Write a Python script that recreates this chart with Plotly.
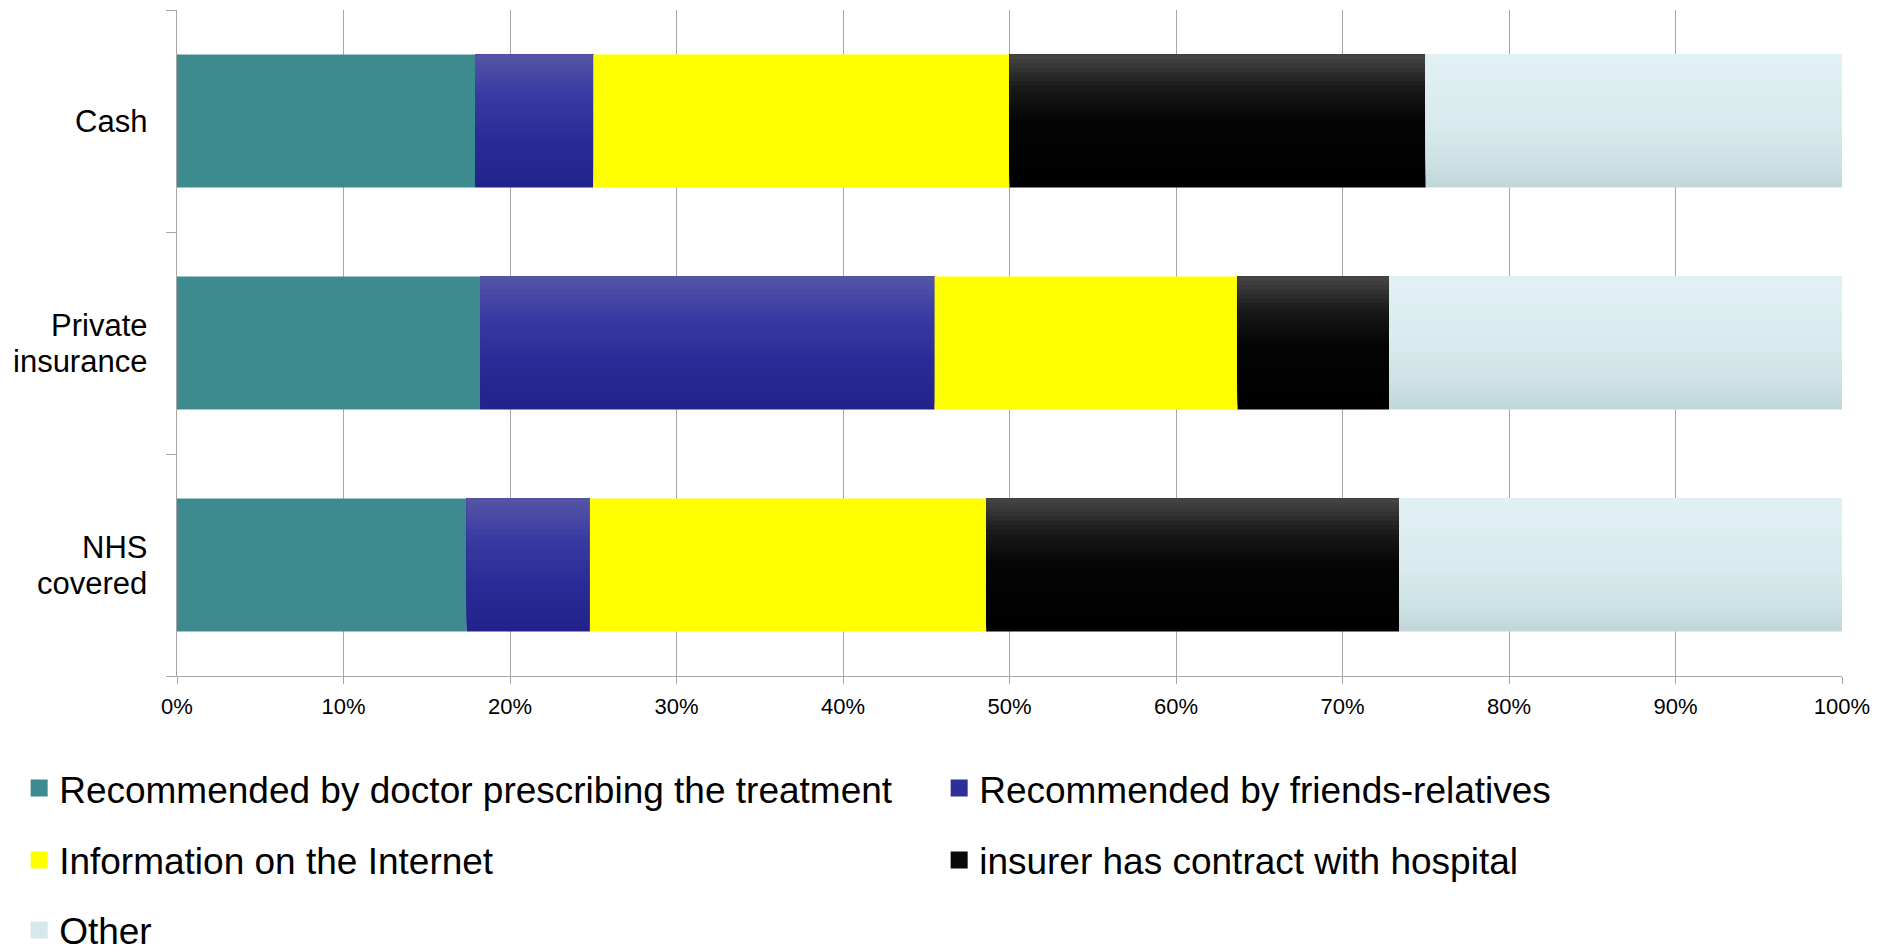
import plotly.graph_objects as go

# Payment type per respondent group
categories = ["Cash", "Private insurance", "NHS covered"]
category_lines = [["Cash"], ["Private", "insurance"], ["NHS", "covered"]]

# Share of answers (%) for each reason of hospital choice
series_names = [
    "Recommended by doctor prescribing the treatment",
    "Recommended by friends-relatives",
    "Information on the Internet",
    "insurer has contract with hospital",
    "Other",
]
doctor = [17.9, 18.2, 17.4]
friends = [7.1, 27.3, 7.4]
internet = [25.0, 18.2, 23.8]
insurer = [25.0, 9.1, 24.8]
other = [25.0, 27.2, 26.6]

series_values = [doctor, friends, internet, insurer, other]

# Fill styles: list of (position from top 0..1, colour) stops
fills = [
    [(0.0, "#3e8b8f"), (1.0, "#3e8b8f")],
    [(0.0, "#5456a6"), (0.3, "#3a3aa2"), (0.65, "#2b2b97"), (1.0, "#22228a")],
    [(0.0, "#ffff00"), (1.0, "#ffff00")],
    [(0.0, "#474747"), (0.25, "#1a1a1a"), (0.5, "#050505"), (1.0, "#000000")],
    [(0.0, "#e1f0f4"), (0.5, "#d9ebee"), (0.8, "#cde2e5"), (1.0, "#c0d6d9")],
]
key_colours = ["#3e8b8f", "#2f2f9a", "#ffff00", "#0a0a0a", "#d6e8eb"]
legend_rows = ["legend", "legend", "legend2", "legend2", "legend3"]

BAR_W = 0.6
N_BANDS = 30


def hex_to_rgb(h):
    h = h.lstrip("#")
    return tuple(int(h[i:i + 2], 16) for i in (0, 2, 4))


def colour_at(stops, t):
    for (t0, c0), (t1, c1) in zip(stops, stops[1:]):
        if t0 <= t <= t1:
            f = 0 if t1 == t0 else (t - t0) / (t1 - t0)
            a, b = hex_to_rgb(c0), hex_to_rgb(c1)
            r = [round(a[i] + (b[i] - a[i]) * f) for i in range(3)]
            return "rgb({},{},{})".format(*r)
    return stops[-1][1]


fig = go.Figure()

# stacked start of every segment
starts = []
acc = [0.0] * len(categories)
for vals in series_values:
    starts.append(list(acc))
    acc = [a + v for a, v in zip(acc, vals)]

# Legend keys: drawn first, underneath the visible segments, with a thick
# outline so the key square comes out larger
for name, vals, base, col, leg in zip(series_names, series_values, starts,
                                      key_colours, legend_rows):
    fig.add_trace(go.Bar(
        y=categories, x=vals, base=base, orientation="h",
        width=BAR_W / 2, offset=-BAR_W / 4,
        marker=dict(color=col, line=dict(color=col, width=6)),
        name=name, legend=leg, showlegend=True, hoverinfo="skip",
    ))

# Segments, shaded top to bottom with stacked bands
for name, vals, base, stops in zip(series_names, series_values, starts, fills):
    flat = stops[0][1] == stops[-1][1]
    n = 1 if flat else N_BANDS
    band = BAR_W / n
    for k in range(n):
        # each band runs from its lower edge up to the top of the bar,
        # drawn bottom first so the lighter tones sit on top
        t = 1 - (k + 0.5) / n
        w = BAR_W - k * band
        fig.add_trace(go.Bar(
            y=categories,
            x=vals,
            base=base,
            orientation="h",
            width=w,
            offset=BAR_W / 2 - w,
            marker=dict(color=colour_at(stops, t), line=dict(width=0)),
            name=name,
            showlegend=False,
            hovertemplate="%{y}: %{x:.1f}%<extra>" + name + "</extra>",
        ))

grey = "#a6a6a6"

fig.update_layout(
    width=1881,
    height=947,
    margin=dict(l=177, r=39, t=10, b=271, autoexpand=False),
    paper_bgcolor="white",
    plot_bgcolor="white",
    barmode="overlay",
    font=dict(family="Liberation Sans, Arial, sans-serif", color="black"),
    xaxis=dict(
        range=[0, 100],
        dtick=10,
        ticksuffix="%",
        showgrid=True,
        gridcolor=grey,
        gridwidth=1,
        zeroline=False,
        showline=True,
        linecolor=grey,
        linewidth=1,
        ticks="outside",
        ticklen=7,
        tickcolor=grey,
        ticklabelstandoff=4,
        tickfont=dict(size=22),
    ),
    yaxis=dict(
        categoryorder="array",
        categoryarray=categories[::-1],
        range=[-0.5, 2.5],
        showgrid=False,
        zeroline=False,
        showline=True,
        linecolor=grey,
        linewidth=1,
        ticks="outside",
        tickson="boundaries",
        ticklen=10,
        tickcolor=grey,
        showticklabels=False,
    ),
)

legend_style = dict(
    orientation="h",
    xanchor="left",
    yanchor="middle",
    x=-0.0948,
    entrywidth=875,
    entrywidthmode="pixels",
    font=dict(size=37, family="Liberation Sans, Arial, sans-serif"),
    bgcolor="rgba(0,0,0,0)",
    traceorder="normal",
)
fig.update_layout(
    legend=dict(legend_style, y=-0.169),
    legend2=dict(legend_style, y=-0.277),
    legend3=dict(legend_style, y=-0.382),
)

# Category labels, one annotation per line so the lines sit close and centred
LINE_STEP = 36
for cat, lines in zip(categories, category_lines):
    n = len(lines)
    for i, line in enumerate(lines):
        fig.add_annotation(
            x=-0.017, xref="paper", xanchor="right",
            y=cat, yref="y", yanchor="middle",
            yshift=((n - 1) / 2 - i) * LINE_STEP,
            text=line, showarrow=False,
            font=dict(size=31),
        )

fig.write_html("out.html")
